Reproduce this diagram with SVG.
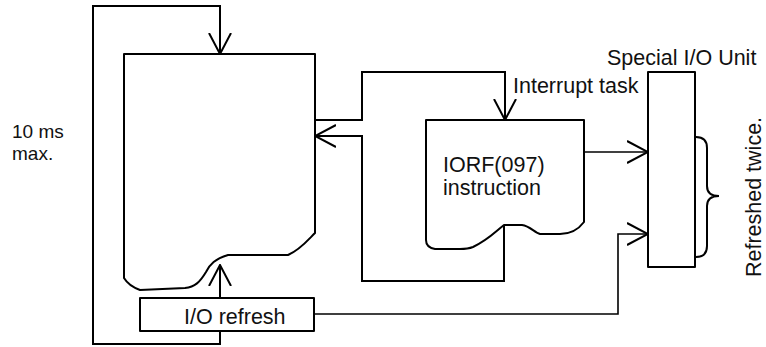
<svg xmlns="http://www.w3.org/2000/svg" width="766" height="347" viewBox="0 0 766 347">
<style>
.box{fill:#fff;stroke:#000;stroke-width:2;stroke-linejoin:round}
.ln{fill:none;stroke:#000;stroke-width:2;stroke-linejoin:miter}
.thin{fill:none;stroke:#000;stroke-width:1.6}
text{font-family:"Liberation Sans",Arial,Helvetica,sans-serif;font-size:21.5px;fill:#111}
</style>
<defs>
<marker id="arr" viewBox="0 0 22 24" refX="21" refY="12" markerWidth="22" markerHeight="24" markerUnits="userSpaceOnUse" orient="auto">
<path d="M0,1 L21,12 L0,23" fill="none" stroke="#000" stroke-width="2"/>
</marker>
</defs>
<rect width="766" height="347" fill="#fff"/>
<g id="connectors">
<path class="ln" d="M220,331 V344 H93 V6 H220 V54" marker-end="url(#arr)"/>
<path class="ln" d="M220,298 V265" marker-end="url(#arr)"/>
<path class="ln" d="M315,120 H362 V72 H505 V120" marker-end="url(#arr)"/>
<path class="ln" d="M504,225 V281 H362 V136 H315" marker-end="url(#arr)"/>
<path class="thin" d="M584,152 H648" marker-end="url(#arr)"/>
<path class="thin" d="M314,314 H618 V234 H648" marker-end="url(#arr)"/>
</g>
<g id="main-program">
<path class="box" d="M124,54 H315 V233 C308,240 300,250 288,255 H228 C215,259 210,264 206,272 C200,282 195,287 185,288 L140,290 C132,287 127,283 124,278 Z"/>
</g>
<g id="interrupt-task">
<path class="box" d="M426,120 H584 V222 C578,230 570,234 560,234 H540 C535,233 530,226 522,225 L504,225 C495,232 488,240 473,247 C468,249 466,249 460,249 H435 C429,248 426,245 426,240 Z"/>
<text x="443" y="172">IORF(097)<tspan x="443" y="195">instruction</tspan></text>
</g>
<g id="interrupt-label">
<text x="513" y="93">Interrupt task</text>
</g>
<g id="special-io-unit">
<rect class="box" x="648" y="72" width="47" height="195"/>
<text x="607" y="65">Special I/O Unit</text>
</g>
<g id="io-refresh">
<rect class="box" x="140" y="298" width="174" height="33"/>
<text x="184" y="324">I/O refresh</text>
</g>
<g id="time-label">
<text x="12" y="138" style="font-size:19px">10 ms<tspan x="12" y="160">max.</tspan></text>
</g>
<g id="refreshed-brace">
<path class="ln" d="M696,137 Q707,137 707,148 V186 Q707,196 719,196 Q707,196 707,206 V246 Q707,257 696,257"/>
<text transform="translate(761,197) rotate(-90)" text-anchor="middle">Refreshed twice.</text>
</g>
</svg>
